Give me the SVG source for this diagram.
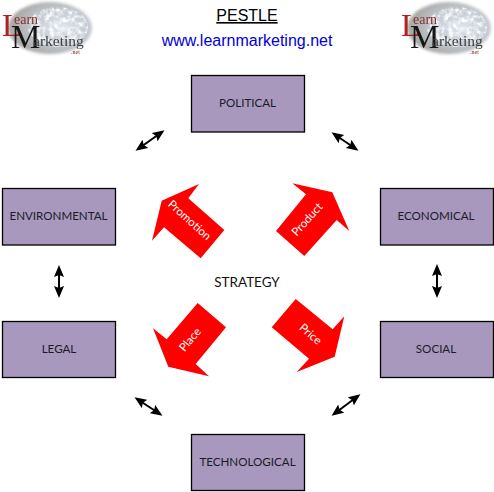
<svg xmlns="http://www.w3.org/2000/svg" xmlns:xlink="http://www.w3.org/1999/xlink" width="494" height="492" viewBox="0 0 494 492">
<style>
.box{fill:#a898bd;stroke:#000;stroke-width:1.3}
.lbl{font-family:Lato,"Liberation Sans",sans-serif;font-size:11.6px;fill:#1a1a2a;text-anchor:middle}
.arr{fill:#f00}
.arrt{font-family:Lato,"Liberation Sans",sans-serif;font-size:11.5px;fill:#fff;text-anchor:middle}
.con{stroke:#000;stroke-width:2;fill:none;marker-start:url(#ah);marker-end:url(#ah)}
.lt{font-family:"Liberation Serif",serif}
</style>
<defs>
<marker id="ah" markerUnits="userSpaceOnUse" markerWidth="13" markerHeight="11" refX="9" refY="5.5" orient="auto-start-reverse"><path d="M0 0.5L12 5.5L0 10.5L2 5.5Z" fill="#000"/></marker>
<radialGradient id="g" cx="0.64" cy="0.48" r="0.58"><stop offset="0" stop-color="#dfe5ee"/><stop offset="0.6" stop-color="#c2c8d0"/><stop offset="1" stop-color="#a9a9a6"/></radialGradient>
<filter id="b" x="-10%" y="-10%" width="120%" height="120%"><feGaussianBlur stdDeviation="1.5"/></filter>
<filter id="s" x="-10%" y="-10%" width="120%" height="120%"><feGaussianBlur stdDeviation="0.35"/></filter>
<filter id="n" x="0" y="0" width="100%" height="100%"><feTurbulence type="fractalNoise" baseFrequency="0.22" numOctaves="2" seed="4"/><feColorMatrix values="0 0 0 0 1  0 0 0 0 1  0 0 0 0 1  2.6 0 0 0 -1"/><feGaussianBlur stdDeviation="0.5"/><feComposite in2="SourceGraphic" operator="in"/></filter>
<g id="logo">
<ellipse cx="50" cy="28" rx="42" ry="26" fill="url(#g)" filter="url(#b)"/>
<ellipse cx="58" cy="27" rx="30" ry="20" fill="#fff" filter="url(#n)"/>
<g filter="url(#s)">
<text class="lt" x="2" y="36" font-size="32" fill="#b02020">L</text>
<text class="lt" x="14" y="24" font-size="14" fill="#8a3030">earn</text>
<text class="lt" x="11" y="48" font-size="33" fill="#151515">M</text>
<text class="lt" x="33" y="46" font-size="15.5" fill="#404040">arketing</text>
<text class="lt" x="71" y="54" font-size="6" fill="#802020">.net</text>
</g>
</g>
</defs>
<rect width="494" height="492" fill="#fff"/>
<use xlink:href="#logo" href="#logo" id="logo-left"/>
<use xlink:href="#logo" href="#logo" id="logo-right" x="399"/>
<g id="title">
<text x="247" y="21" font-family="'Liberation Sans',Arial,sans-serif" font-size="16" fill="#000" text-anchor="middle" text-decoration="underline">PESTLE</text>
<text x="247" y="46" font-family="'Liberation Sans',Arial,sans-serif" font-size="16" fill="#0000d8" text-anchor="middle">www.learnmarketing.net</text>
</g>
<g id="connectors">
<line class="con" x1="138" y1="149" x2="162" y2="132"/>
<line class="con" x1="334" y1="134" x2="356" y2="149"/>
<line class="con" x1="59" y1="268" x2="59" y2="295"/>
<line class="con" x1="437" y1="267" x2="437" y2="295"/>
<line class="con" x1="137" y1="399" x2="160" y2="414"/>
<line class="con" x1="358" y1="396" x2="334" y2="414"/>
</g>
<g id="political"><rect class="box" x="191.5" y="75.5" width="113" height="56.5"/><text class="lbl" x="247.5" y="107">POLITICAL</text></g>
<g id="environmental"><rect class="box" x="2.5" y="188.5" width="113" height="56.5"/><text class="lbl" x="58.5" y="220">ENVIRONMENTAL</text></g>
<g id="economical"><rect class="box" x="380.5" y="188.5" width="113" height="56.5"/><text class="lbl" x="436" y="220">ECONOMICAL</text></g>
<g id="legal"><rect class="box" x="2.5" y="321.5" width="113" height="56"/><text class="lbl" x="59" y="353">LEGAL</text></g>
<g id="social"><rect class="box" x="380.5" y="321.5" width="113" height="56"/><text class="lbl" x="436" y="353">SOCIAL</text></g>
<g id="technological"><rect class="box" x="191.5" y="434.5" width="113" height="56"/><text class="lbl" x="247.5" y="466">TECHNOLOGICAL</text></g>
<g id="strategy"><text x="247" y="287" font-family="Lato,'Liberation Sans',sans-serif" font-size="13.5" fill="#111" text-anchor="middle">STRATEGY</text></g>
<g id="promotion"><polygon class="arr" points="199,184 188.3,198.3 224.3,230 200.7,258.3 164,227.3 152,240.7 161.7,200.7"/><text class="arrt" transform="translate(187,223) rotate(42)">Promotion</text></g>
<g id="product"><polygon class="arr" points="292.3,183.3 332.3,192.3 349.3,231 336.7,220 304.3,256 276,231 306,194.3"/><text class="arrt" transform="translate(310,222) rotate(-48)">Product</text></g>
<g id="place"><polygon class="arr" points="197.7,303 226,327.3 195.7,364 209,376.3 168.3,366.7 153,328.3 166.7,339.3"/><text class="arrt" transform="translate(193,342) rotate(-50)">Place</text></g>
<g id="price"><polygon class="arr" points="295.7,299 332.7,329.3 344.3,316.3 334.7,356.7 296.7,372 309,358.7 271.7,327.3"/><text class="arrt" transform="translate(308,337) rotate(41)">Price</text></g>
</svg>
